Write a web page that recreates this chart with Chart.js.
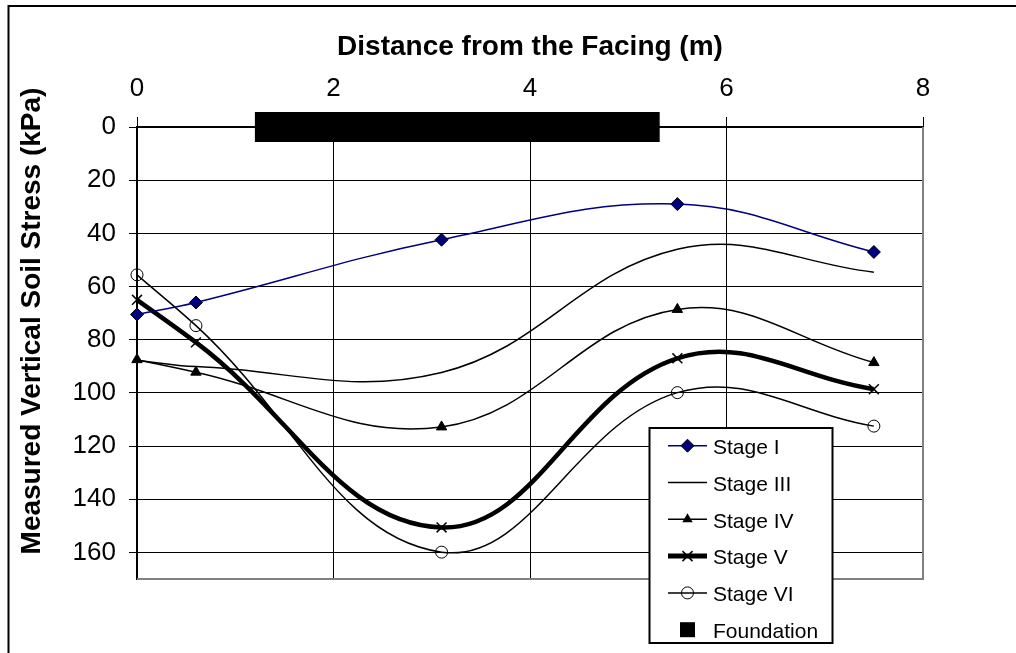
<!DOCTYPE html>
<html>
<head>
<meta charset="utf-8">
<title>Measured Vertical Soil Stress</title>
<script src="https://cdn.jsdelivr.net/npm/chart.js@4/dist/chart.umd.min.js"></script>
<style>
  html, body { margin: 0; padding: 0; background: #fff; }
  #wrap { width: 1016px; height: 653px; }
</style>
</head>
<body>
<div id="wrap"><canvas id="stressChart"></canvas></div>
<script>
const distance = [0, 0.6, 3.1, 5.5, 7.5];
const stageI = [70.5, 66, 42.4, 29, 47];
const stageIII = [87.7, 90.1, 92.3, 46, 54.6];
const stageIV = [87.5, 92.2, 112.8, 68.6, 88.6];
const stageV = [65, 81, 150.6, 87, 98.6];
const stageVI = [55.6, 74.7, 159.9, 99.9, 112.5];
const foundationX = [1.2, 5.32];
const foundationY = [0, 0];
const xTicks = [0, 2, 4, 6, 8];
const yTicks = [0, 20, 40, 60, 80, 100, 120, 140, 160];
const xTitle = 'Distance from the Facing (m)';
const yTitle = 'Measured Vertical Soil Stress (kPa)';
const legendLabels = ['Stage I', 'Stage III', 'Stage IV', 'Stage V', 'Stage VI', 'Foundation'];

const family = '"Liberation Sans", Arial, sans-serif';
const navy = '#000080';

function points(xs, ys) {
  return xs.map((x, i) => ({ x: x, y: ys[i] }));
}

// little markers for the hand drawn legend box
function marker(ctx, style, x, y) {
  ctx.beginPath();
  if (style === 'diamond') {
    ctx.moveTo(x - 6.5, y); ctx.lineTo(x, y - 6.5); ctx.lineTo(x + 6.5, y); ctx.lineTo(x, y + 6.5);
    ctx.closePath();
    ctx.fillStyle = navy; ctx.fill();
    ctx.lineWidth = 1; ctx.strokeStyle = '#000'; ctx.stroke();
  } else if (style === 'triangle') {
    ctx.moveTo(x, y - 6); ctx.lineTo(x + 5.2, y + 3); ctx.lineTo(x - 5.2, y + 3);
    ctx.closePath();
    ctx.fillStyle = '#000'; ctx.fill();
  } else if (style === 'cross') {
    ctx.moveTo(x - 5, y - 5); ctx.lineTo(x + 5, y + 5);
    ctx.moveTo(x + 5, y - 5); ctx.lineTo(x - 5, y + 5);
    ctx.lineWidth = 1.5; ctx.strokeStyle = '#000'; ctx.stroke();
  } else if (style === 'circle') {
    ctx.arc(x, y, 6, 0, Math.PI * 2);
    ctx.lineWidth = 1; ctx.strokeStyle = '#000'; ctx.stroke();
  } else if (style === 'square') {
    ctx.rect(x - 7.5, y - 7.5, 15, 15);
    ctx.fillStyle = '#000'; ctx.fill();
  }
}

const legendStyles = [
  { color: navy, width: 1.5, marker: 'diamond' },
  { color: '#000', width: 1.5, marker: null },
  { color: '#000', width: 1.5, marker: 'triangle' },
  { color: '#000', width: 5, marker: 'cross' },
  { color: '#000', width: 1.5, marker: 'circle' },
  { color: null, width: 0, marker: 'square' }
];

const decorations = {
  id: 'decorations',
  beforeDraw(chart) {
    const ctx = chart.ctx;
    ctx.save();
    ctx.fillStyle = '#fff';
    ctx.fillRect(0, 0, chart.width, chart.height);
    ctx.strokeStyle = '#000';
    ctx.lineWidth = 2;
    ctx.strokeRect(8.5, 6, chart.width + 20, chart.height + 20);
    ctx.restore();
  },
  beforeDatasetsDraw(chart) {
    const { ctx, chartArea: a } = chart;
    ctx.save();
    ctx.strokeStyle = '#808080';
    ctx.lineWidth = 2;
    ctx.beginPath();
    ctx.moveTo(a.right, a.top);
    ctx.lineTo(a.right, a.bottom);
    ctx.lineTo(a.left, a.bottom);
    ctx.stroke();
    ctx.translate(32, 321);
    ctx.rotate(-Math.PI / 2);
    ctx.font = 'bold 28px ' + family;
    ctx.fillStyle = '#000';
    ctx.textAlign = 'center';
    ctx.textBaseline = 'middle';
    ctx.fillText(yTitle, 0, 0);
    ctx.restore();
  },
  afterDraw(chart) {
    const ctx = chart.ctx;
    ctx.save();
    ctx.fillStyle = '#fff';
    ctx.fillRect(649, 427, 184, 217);
    ctx.strokeStyle = '#000';
    ctx.lineWidth = 2;
    ctx.strokeRect(649.5, 428, 183, 215);
    ctx.font = '21px ' + family;
    ctx.textAlign = 'left';
    ctx.textBaseline = 'middle';
    legendLabels.forEach((label, i) => {
      const st = legendStyles[i];
      const y = 445.7 + i * 36.8;
      if (st.color) {
        ctx.beginPath();
        ctx.moveTo(668, y);
        ctx.lineTo(707, y);
        ctx.strokeStyle = st.color;
        ctx.lineWidth = st.width;
        ctx.stroke();
      }
      if (st.marker) marker(ctx, st.marker, 687.5, y);
      ctx.fillStyle = '#000';
      ctx.fillText(label, 713, y + 2.5);
    });
    ctx.restore();
  }
};

const ctxStress = document.getElementById('stressChart');

new Chart(ctxStress, {
  type: 'line',
  data: {
    datasets: [
      {
        label: 'Foundation',
        data: points(foundationX, foundationY),
        borderColor: '#000',
        borderWidth: 30,
        borderCapStyle: 'butt',
        pointRadius: 0,
        tension: 0,
        clip: false
      },
      {
        label: 'Stage I',
        data: points(distance, stageI),
        borderColor: navy,
        borderWidth: 1.5,
        pointStyle: 'rectRot',
        pointRadius: 6.5,
        pointBackgroundColor: navy,
        pointBorderColor: '#000',
        pointBorderWidth: 1,
        clip: false
      },
      {
        label: 'Stage III',
        data: points(distance, stageIII),
        borderColor: '#000',
        borderWidth: 1.5,
        pointRadius: 0,
        clip: false
      },
      {
        label: 'Stage IV',
        data: points(distance, stageIV),
        borderColor: '#000',
        borderWidth: 1.5,
        pointStyle: 'triangle',
        pointRadius: 6,
        pointBackgroundColor: '#000',
        pointBorderColor: '#000',
        pointBorderWidth: 1,
        clip: false
      },
      {
        label: 'Stage V',
        data: points(distance, stageV),
        borderColor: '#000',
        borderWidth: 4.5,
        pointStyle: 'crossRot',
        pointRadius: 7,
        pointBorderColor: '#000',
        pointBorderWidth: 1.5,
        clip: false
      },
      {
        label: 'Stage VI',
        data: points(distance, stageVI),
        borderColor: '#000',
        borderWidth: 1.5,
        pointStyle: 'circle',
        pointRadius: 6,
        pointBackgroundColor: 'rgba(0,0,0,0)',
        pointBorderColor: '#000',
        pointBorderWidth: 1,
        clip: false
      }
    ]
  },
  options: {
    responsive: true,
    maintainAspectRatio: false,
    animation: false,
    layout: { padding: { left: 0, top: 0, right: 93, bottom: 74 } },
    elements: { line: { tension: 0.4 } },
    plugins: {
      legend: { display: false },
      tooltip: { enabled: false }
    },
    scales: {
      x: {
        type: 'linear',
        position: 'top',
        min: 0,
        max: 8,
        afterBuildTicks: scale => { scale.ticks = xTicks.map(v => ({ value: v })); },
        afterFit: scale => { scale.height = 127; },
        grid: {
          color: c => (c.tick && c.tick.value === 8 ? '#808080' : '#000'),
          lineWidth: 1,
          tickColor: '#000',
          tickLength: 10
        },
        border: { color: '#000', width: 2 },
        ticks: { color: '#000', padding: 13, maxRotation: 0, font: { family: family, size: 26 } },
        title: {
          display: true,
          text: xTitle,
          color: '#000',
          font: { family: family, size: 28, weight: 'bold' },
          padding: { top: 30, bottom: 0 }
        }
      },
      y: {
        type: 'linear',
        reverse: true,
        min: 0,
        max: 170,
        afterBuildTicks: scale => { scale.ticks = yTicks.map(v => ({ value: v })); },
        afterFit: scale => { scale.width = 137; },
        grid: { color: '#000', lineWidth: 1, tickColor: '#000', tickLength: 8 },
        border: { color: '#000', width: 2 },
        ticks: { color: '#000', padding: 13, font: { family: family, size: 26 } }
      }
    }
  },
  plugins: [decorations]
});
</script>
</body>
</html>
